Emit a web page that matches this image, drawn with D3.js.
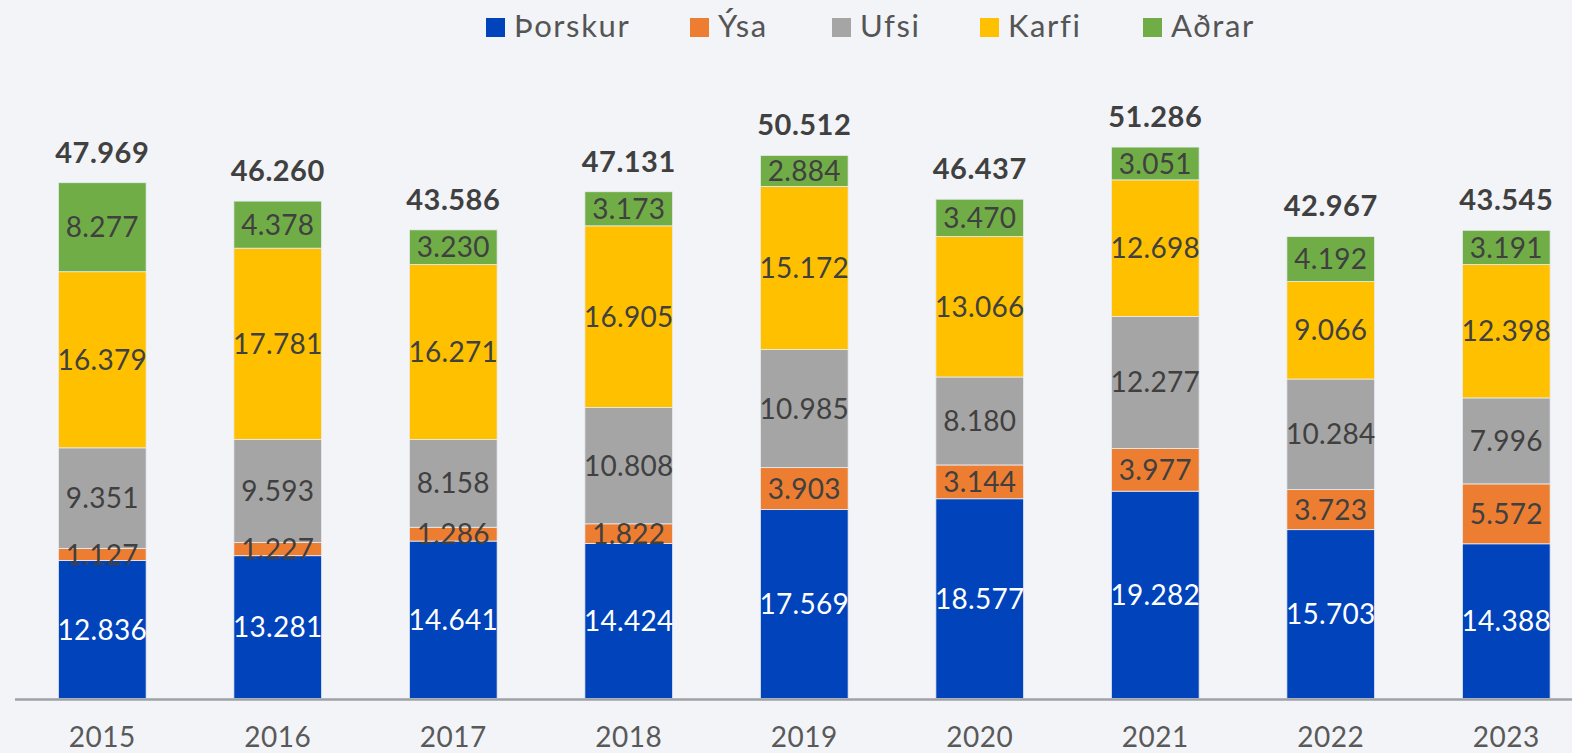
<!DOCTYPE html>
<html>
<head>
<meta charset="utf-8">
<script src="https://cdn.jsdelivr.net/npm/d3@7"></script>
<style>
  html, body { margin: 0; padding: 0; background: #f2f4f8; }
  svg { display: block; font-family: Lato, "Noto Sans", sans-serif; }
</style>
</head>
<body>
<div id="chart"></div>
<script>
// gögn
var years = ["2015", "2016", "2017", "2018", "2019", "2020", "2021", "2022", "2023"];
var seriesNames = ["Þorskur", "Ýsa", "Ufsi", "Karfi", "Aðrar"];
var colors = ["#0043bb", "#ed7d31", "#a5a5a5", "#ffc000", "#70ad47"];

var thorskur = [12836, 13281, 14641, 14424, 17569, 18577, 19282, 15703, 14388];
var ysa      = [1127, 1227, 1286, 1822, 3903, 3144, 3977, 3723, 5572];
var ufsi     = [9351, 9593, 8158, 10808, 10985, 8180, 12277, 10284, 7996];
var karfi    = [16379, 17781, 16271, 16905, 15172, 13066, 12698, 9066, 12398];
var adrar    = [8277, 4378, 3230, 3173, 2884, 3470, 3051, 4192, 3191];
// samtölur eins og þær eru birtar (námundun)
var totals   = [47969, 46260, 43586, 47131, 50512, 46437, 51286, 42967, 43545];

var w = 1572, h = 753;
var fmt = function(v) { return d3.format(",")(v).replace(/,/g, "."); };

var table = years.map(function(y, i) {
    return { year: y, total: totals[i], "Þorskur": thorskur[i], "Ýsa": ysa[i], "Ufsi": ufsi[i], "Karfi": karfi[i], "Aðrar": adrar[i] };
});

var svg = d3.select("#chart").append("svg")
    .attr("width", w)
    .attr("height", h);

var x = d3.scaleBand().domain(years).range([14.5, 1594]).paddingInner(0.5).paddingOuter(0.25);
var y = d3.scaleLinear().domain([0, 65000]).range([698.5, -0.4]);
var color = d3.scaleOrdinal().domain(seriesNames).range(colors);

var stack = d3.stack().keys(seriesNames);
var layers = stack(table);

var g = svg.selectAll("g.layer").data(layers).enter()
    .append("g")
    .attr("class", "layer")
    .style("fill", function(d) { return color(d.key); });

g.selectAll("rect").data(function(d) { return d; }).enter()
    .append("rect")
    .attr("x", function(d) { return x(d.data.year); })
    .attr("width", x.bandwidth())
    .attr("y", function(d) { return y(d[1]); })
    .attr("height", function(d) { return y(d[0]) - y(d[1]); })
    .attr("stroke", "#e9edf2")
    .attr("stroke-width", 0.8);

// tölur inni í stöplum
layers.forEach(function(layer, li) {
    svg.append("g").selectAll("text").data(layer).enter()
        .append("text")
        .attr("x", function(d) { return x(d.data.year) + x.bandwidth() / 2; })
        .attr("y", function(d) { return (y(d[0]) + y(d[1])) / 2; })
        .attr("dy", "0.36em")
        .attr("text-anchor", "middle")
        .style("font-size", "28px")
        .style("letter-spacing", "0.3px")
        .style("fill", li === 0 ? "#ffffff" : "#404040")
        .text(function(d) { return fmt(d[1] - d[0]); });
});

// samtölur
var topLayer = layers[layers.length - 1];
svg.append("g").selectAll("text").data(topLayer).enter()
    .append("text")
    .attr("x", function(d) { return x(d.data.year) + x.bandwidth() / 2; })
    .attr("y", function(d) { return y(d[1]) - 20; })
    .attr("text-anchor", "middle")
    .style("font-size", "29px")
    .style("font-weight", "bold")
    .style("letter-spacing", "0.5px")
    .style("fill", "#404040")
    .text(function(d) { return fmt(d.data.total); });

// x ás
var xAxis = svg.append("g")
    .attr("transform", "translate(0,699)")
    .call(d3.axisBottom(x).tickSize(0).tickPadding(28));
xAxis.select(".domain").attr("stroke", "#9ea2a6").attr("stroke-width", 2.5);
xAxis.selectAll("text")
    .style("font-size", "28px")
    .style("letter-spacing", "0.5px")
    .style("fill", "#595959")
    .style("font-family", "Lato, 'Noto Sans', sans-serif");

// skýringar
var legendX = [486, 690, 832, 980, 1143];
var legend = svg.append("g").selectAll("g").data(seriesNames).enter()
    .append("g")
    .attr("transform", function(d, i) { return "translate(" + legendX[i] + ",18)"; });
legend.append("rect")
    .attr("width", 19)
    .attr("height", 19)
    .style("fill", function(d) { return color(d); });
legend.append("text")
    .attr("x", 28)
    .attr("y", 19)
    .style("font-size", "31px")
    .style("letter-spacing", "1.6px")
    .style("fill", "#555555")
    .text(function(d) { return d; });
</script>
</body>
</html>
